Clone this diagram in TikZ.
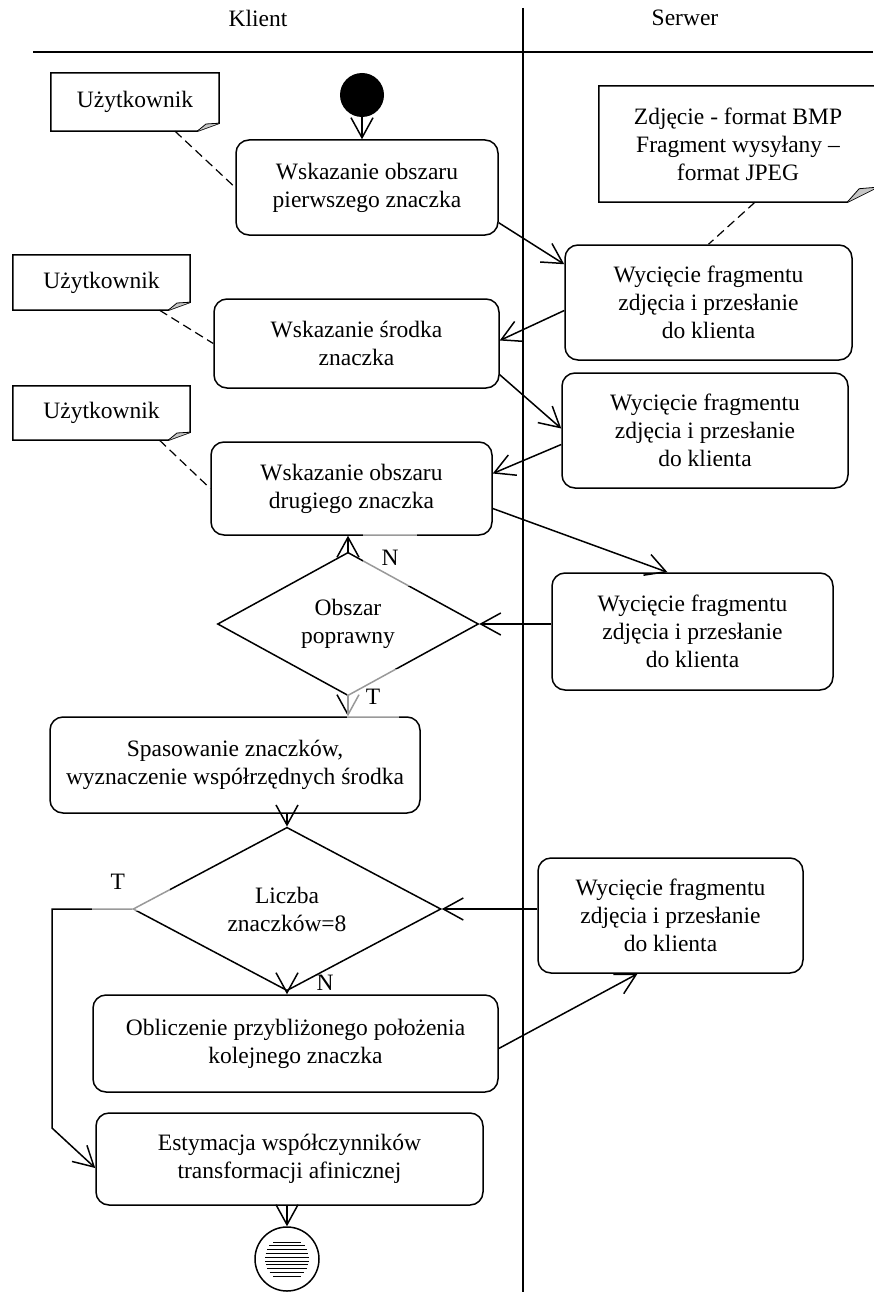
\documentclass[tikz,border=0pt]{standalone}
\usepackage{fontspec}
\setmainfont{Liberation Serif}
\usetikzlibrary{arrows.meta}
\usetikzlibrary{shapes.geometric}

\newcommand{\dfont}{\fontsize{23.5}{28}\selectfont}
% outline of a note with a folded lower right corner
\newcommand{\notefold}[3]{%
  \draw[line width=1.5pt] (#1.north west) -- (#1.north east) -- ([yshift=#3]#1.south east) -- ([xshift=-#2]#1.south east) -- (#1.south west) -- cycle;
  \filldraw[fill=gray!45, line width=0.8pt] ([xshift=-#2]#1.south east) -- ([xshift=-0.6*#2, yshift=0.9*#3]#1.south east) -- ([yshift=#3]#1.south east);
}

\begin{document}
\begin{tikzpicture}[x=1pt, y=-1pt,
    >={Straight Barb[length=20pt,width=22pt]},
    act/.style={rectangle, draw, rounded corners=13pt, line width=1.5pt, align=center, font=\dfont, inner sep=0pt},
    choice/.style={diamond, draw, line width=1.5pt, align=center, font=\dfont, inner sep=0pt},
    note/.style={rectangle, align=center, font=\dfont, inner sep=0pt},
    flow/.style={->, line width=1.5pt},
    link/.style={line width=1.2pt, dash pattern=on 9pt off 5pt},
    lane/.style={line width=1.5pt},
    flag/.style={font=\dfont, fill=white, fill opacity=0.6, text opacity=1, inner xsep=19pt, inner ysep=20pt},
    startnode/.style={circle, fill=black, minimum size=44pt, inner sep=0pt},
    stopnode/.style={circle, draw, line width=1.5pt, minimum size=64pt, inner sep=0pt,
        path picture={\foreach \k in {0,...,9} {\pgfmathsetmacro{\dy}{-17+3.8*\k}\pgfmathsetmacro{\hw}{sqrt(max(484-\dy*\dy,0))}
            \draw[line width=0.8pt, shift={(path picture bounding box.center)}] (-\hw,\dy) -- (\hw,\dy);}}}]
    \useasboundingbox (0,0) rectangle (873,1292);

    % lanes
    \node[font=\dfont] (klient) at (258,18) {Klient};
    \node[font=\dfont] (serwer) at (685,18) {Serwer};
    \draw[lane] (33,52) -- (873,52);
    \draw[lane] (523,8) -- (523,1292);

    % client
    \node[startnode] (start) at (362,95) {};
    \node[act, minimum width=262pt, minimum height=95pt] (wsk1) at (367,187.5) {Wskazanie obszaru\\pierwszego znaczka};
    \node[act, minimum width=285pt, minimum height=89pt] (wsk2) at (356.5,343.5) {Wskazanie środka\\znaczka};
    \node[act, minimum width=281pt, minimum height=93pt] (wsk3) at (351.5,488.5) {Wskazanie obszaru\\drugiego znaczka};
    \node[choice, minimum width=261pt, minimum height=130pt] (dec1) at (348,624) {Obszar\\poprawny};
    \node[act, minimum width=370pt, minimum height=96pt] (spas) at (235,765) {Spasowanie znaczków,\\wyznaczenie współrzędnych środka};
    \node[choice, minimum width=308pt, minimum height=128pt] (dec2) at (287,909) {Liczba\\znaczków=8};
    \node[act, minimum width=405pt, minimum height=97pt] (obl) at (295.5,1043.5) {Obliczenie przybliżonego położenia\\kolejnego znaczka};
    \node[act, minimum width=387pt, minimum height=92pt] (est) at (289.5,1159) {Estymacja współczynników\\transformacji afinicznej};
    \node[stopnode] (stop) at (287,1259) {};

    % server
    \node[act, minimum width=287pt, minimum height=115pt] (cut1) at (708.5,302.5) {Wycięcie fragmentu\\zdjęcia i przesłanie\\do klienta};
    \node[act, minimum width=286pt, minimum height=115pt] (cut2) at (705,430.5) {Wycięcie fragmentu\\zdjęcia i przesłanie\\do klienta};
    \node[act, minimum width=281pt, minimum height=117pt] (cut3) at (692.5,631.5) {Wycięcie fragmentu\\zdjęcia i przesłanie\\do klienta};
    \node[act, minimum width=265pt, minimum height=115pt] (cut4) at (670.5,915.5) {Wycięcie fragmentu\\zdjęcia i przesłanie\\do klienta};

    % notes
    \node[note, minimum width=168pt, minimum height=58pt] (user1) at (135,102) {Użytkownik};
    \node[note, minimum width=177pt, minimum height=55pt] (user2) at (101.5,282.5) {Użytkownik};
    \node[note, minimum width=177pt, minimum height=54pt] (user3) at (101.5,413) {Użytkownik};
    \node[note, minimum width=278pt, minimum height=116pt] (foto) at (738,144) {Zdjęcie - format BMP\\Fragment wysyłany –\\format JPEG};
    \notefold{user1}{22pt}{8pt}
    \notefold{user2}{22pt}{8pt}
    \notefold{user3}{22pt}{8pt}
    \notefold{foto}{30pt}{15pt}

    % flow
    \draw[flow] (start) -- (start |- wsk1.north);
    \draw[link] ([xshift=40pt]user1.south) -- (wsk1.west);
    \draw[flow] ([yshift=13pt]wsk1.south east) -- ([yshift=-20pt]cut1.north west);
    \draw[link] ([xshift=17pt]foto.south) -- (cut1.north);
    \draw[flow] ([yshift=-8pt]cut1.west) -- ([yshift=3pt]wsk2.east);
    \draw[link] ([xshift=58pt]user2.south) -- (wsk2.west);
    \draw[flow] ([yshift=14pt]wsk2.south east) -- ([yshift=2pt]cut2.west);
    \draw[flow] ([yshift=-14pt]cut2.west) -- ([yshift=15pt]wsk3.east);
    \draw[link] ([xshift=58pt]user3.south) -- (wsk3.west);
    \draw[flow] ([yshift=-20pt]wsk3.east) -- ([xshift=-25pt]cut3.north);
    \draw[flow] (dec1.north) -- (dec1.north |- wsk3.south);
    \draw[flow] (cut3.west |- dec1.east) -- (dec1.east);
    \draw[flow] (dec1.south) -- (dec1.south |- spas.north);
    \draw[flow] (dec2.north |- spas.south) -- (dec2.north);
    \draw[flow] (cut4.west |- dec2.east) -- (dec2.east);
    \draw[flow] (dec2.south) -- (dec2.south |- obl.north);
    \draw[flow] ([yshift=-5pt]obl.east) -- ([xshift=-33pt]cut4.south);
    \coordinate (loop) at (52,1128);
    \draw[flow] (dec2.west) -| (loop) -- ([yshift=-9pt]est.west);
    \draw[flow] (stop.north |- est.south) -- (stop.north);

    % guard labels
    \node[flag] (n1) at (390,558) {N};
    \node[flag] (t1) at (373,697) {T};
    \node[flag, text width=40pt, align=left, inner ysep=21pt] (t2) at (130.5,882) {T};
    \node[font=\dfont] (n2) at (325,983) {N};
\end{tikzpicture}
\end{document}
